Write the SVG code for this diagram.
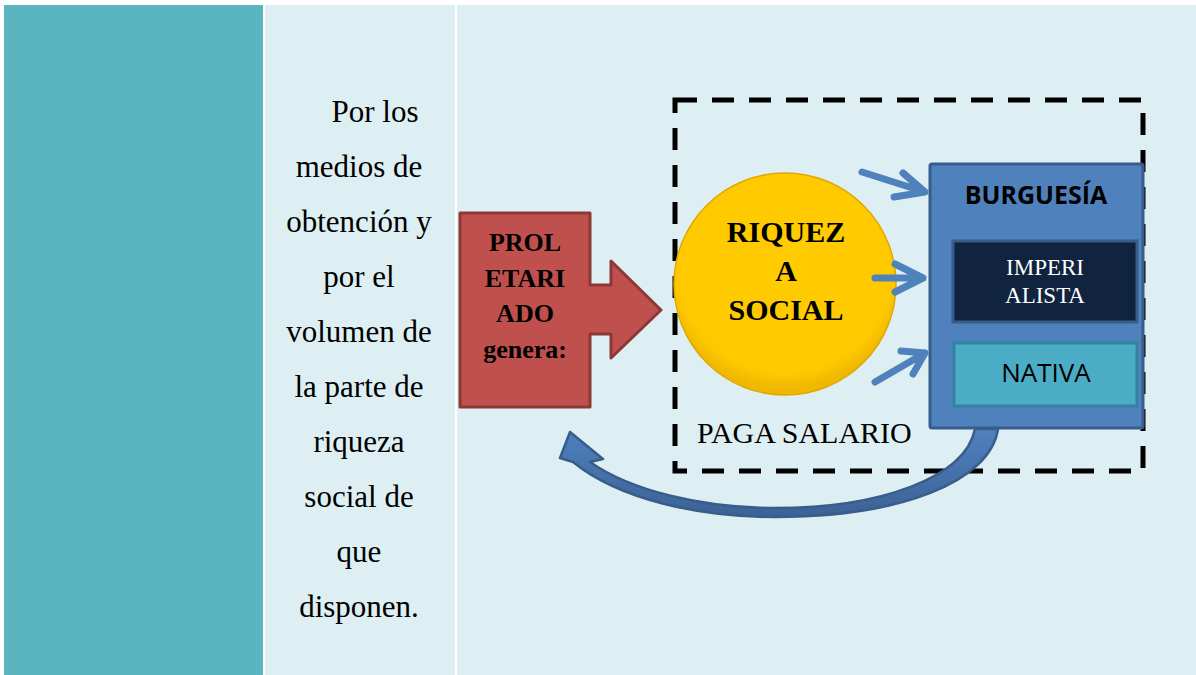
<svg xmlns="http://www.w3.org/2000/svg" width="1196" height="675" viewBox="0 0 1196 675">
<defs>
<radialGradient id="gold" cx="50%" cy="42%" r="55%">
<stop offset="0" stop-color="#FFCC00"/>
<stop offset="0.88" stop-color="#FFC900"/>
<stop offset="1" stop-color="#F0B800"/>
</radialGradient>
<linearGradient id="curveG" x1="0" y1="0" x2="0" y2="1">
<stop offset="0" stop-color="#4F81BD"/>
<stop offset="1" stop-color="#3B6296"/>
</linearGradient>
<style>
.serif{font-family:"Liberation Serif","Times New Roman",serif;}
.sans{font-family:"Open Sans","Liberation Sans",Arial,sans-serif;}
.body{font-size:31px;fill:#000;text-anchor:middle;}
.bold{font-weight:bold;text-anchor:middle;fill:#000;}
.blueArrow{fill:none;stroke:#4F81BD;stroke-width:7;stroke-linecap:round;stroke-linejoin:round;}
</style>
</defs>
<rect width="1196" height="675" fill="#FFFFFF"/>
<rect x="4" y="5" width="259" height="670" fill="#5AB5C0"/>
<rect x="265" y="5" width="190" height="670" fill="#DDEFF2"/>
<rect x="457" y="5" width="739" height="670" fill="#DDEFF2"/>

<g id="texto" class="serif body">
<text x="375" y="122">Por los</text>
<text x="359" y="177">medios de</text>
<text x="359" y="232">obtención y</text>
<text x="359" y="287">por el</text>
<text x="359" y="342">volumen de</text>
<text x="359" y="397">la parte de</text>
<text x="359" y="452">riqueza</text>
<text x="359" y="507">social de</text>
<text x="359" y="562">que</text>
<text x="359" y="617">disponen.</text>
</g>

<g id="marco">
<rect x="675" y="100" width="468" height="371" fill="none" stroke="#000" stroke-width="5" stroke-dasharray="22,15"/>
<text class="serif" x="697" y="443" font-size="30">PAGA SALARIO</text>
</g>

<g id="proletariado">
<path d="M460 213 H590 V285 H611 V261 L661 310 L611 358 V334 H590 V407 H460 Z" fill="#C0504D" stroke="#8C3836" stroke-width="3" stroke-linejoin="round"/>
<g class="serif bold" font-size="26">
<text x="525" y="251">PROL</text>
<text x="525" y="287">ETARI</text>
<text x="525" y="322">ADO</text>
<text x="525" y="358">genera:</text>
</g>
</g>

<g id="riqueza">
<circle cx="785" cy="284" r="111" fill="url(#gold)" stroke="#E0A800" stroke-width="1.5"/>
<g class="serif bold" font-size="30">
<text x="786" y="242">RIQUEZ</text>
<text x="786" y="281">A</text>
<text x="786" y="320">SOCIAL</text>
</g>
</g>

<g id="burguesia">
<rect x="930" y="164" width="213" height="264" rx="2" fill="#4F81BD" stroke="#385D8A" stroke-width="3"/>
<text class="sans bold" x="1036" y="204" font-size="25">BURGUESÍA</text>
</g>

<g id="imperialista">
<rect x="953" y="241" width="184" height="81" fill="#10233F" stroke="#385D8A" stroke-width="3"/>
<text class="serif" x="1045" y="275" font-size="23" fill="#FFFFFF" text-anchor="middle">IMPERI</text>
<text class="serif" x="1045" y="303" font-size="23" fill="#FFFFFF" text-anchor="middle">ALISTA</text>
</g>

<g id="nativa">
<rect x="954" y="343" width="183" height="63" fill="#4BACC6" stroke="#31849B" stroke-width="3"/>
<text class="sans" x="1046" y="382" font-size="26" fill="#000" text-anchor="middle">NATIVA</text>
</g>

<g id="conectores">
<path class="blueArrow" d="M862 172 L925 192 M903 173 L925 192 L894 197"/>
<path class="blueArrow" d="M875 278 L923 278 M895 264 L923 278 L895 292"/>
<path class="blueArrow" d="M875 382 L925 353 M901 351 L925 353 L913 374"/>
<path d="M998 429 C990 482 900 517 775 517 C700 517 620 500 573 462 L560 458 L570 432 L603 459 L590 462 C630 490 700 508 775 508 C880 508 965 478 975 429 Z" fill="url(#curveG)" stroke="#385D8A" stroke-width="2.5" stroke-linejoin="round"/>
</g>
</svg>
